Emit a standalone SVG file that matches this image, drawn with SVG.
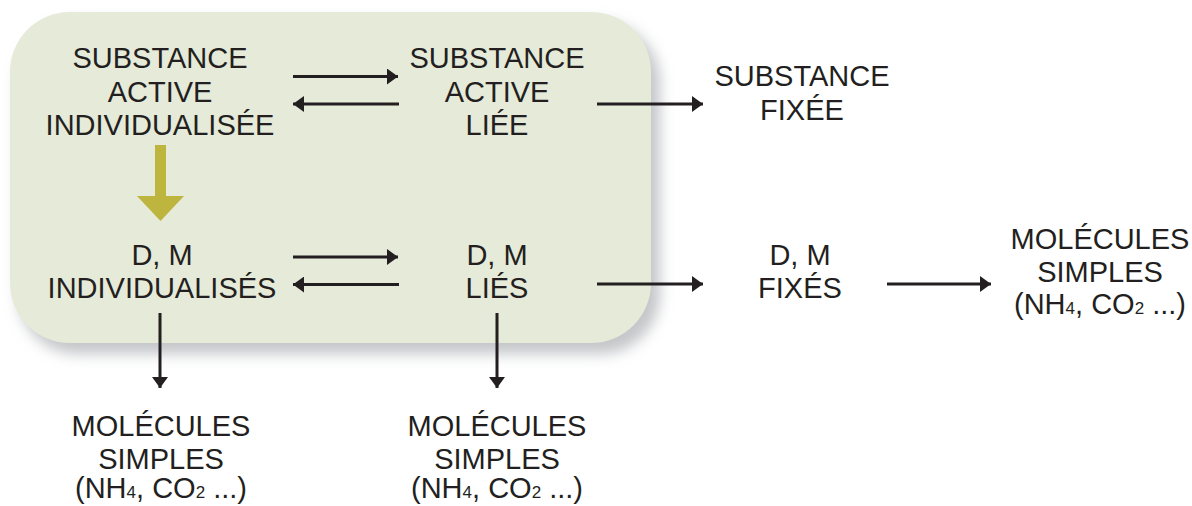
<svg xmlns="http://www.w3.org/2000/svg" width="1192" height="506" viewBox="0 0 1192 506">
<defs>
<filter id="shadow" x="-10%" y="-10%" width="130%" height="130%">
<feGaussianBlur stdDeviation="7"/>
</filter>
<marker id="ah" markerUnits="userSpaceOnUse" markerWidth="12" markerHeight="16" refX="11" refY="8" orient="auto">
<path d="M0,0 L11,8 L0,16 z" fill="#231f20"/>
</marker>
</defs>
<style>
text{font-family:"Liberation Sans",Arial,sans-serif;font-size:29px;fill:#231f20;text-anchor:middle}
.sub{font-size:17px}
.conn line{stroke:#231f20;stroke-width:3;marker-end:url(#ah)}
</style>
<rect x="18" y="22" width="642" height="332" rx="60" fill="#c4c6c9" filter="url(#shadow)"/>
<rect id="box" x="10" y="12" width="641" height="331" rx="60" fill="#e6ead9"/>
<g id="sai"><text x="160" y="68">SUBSTANCE</text><text x="160" y="101.5">ACTIVE</text><text x="160" y="135">INDIVIDUALISÉE</text></g>
<g id="sal"><text x="497" y="68">SUBSTANCE</text><text x="497" y="101.5">ACTIVE</text><text x="497" y="135">LIÉE</text></g>
<g id="sf"><text x="802" y="86">SUBSTANCE</text><text x="802" y="119.5">FIXÉE</text></g>
<g id="dmi"><text x="162" y="265">D, M</text><text x="162" y="298">INDIVIDUALISÉS</text></g>
<g id="dml"><text x="497" y="265">D, M</text><text x="497" y="298">LIÉS</text></g>
<g id="dmf"><text x="800" y="265">D, M</text><text x="800" y="298">FIXÉS</text></g>
<g id="ms1"><text x="1100" y="249">MOLÉCULES</text><text x="1100" y="282">SIMPLES</text><text x="1100" y="314">(NH<tspan class="sub">4</tspan>, CO<tspan class="sub">2</tspan> ...)</text></g>
<g id="ms2"><text x="161" y="436">MOLÉCULES</text><text x="161" y="468.5">SIMPLES</text><text x="161" y="498">(NH<tspan class="sub">4</tspan>, CO<tspan class="sub">2</tspan> ...)</text></g>
<g id="ms3"><text x="497" y="436">MOLÉCULES</text><text x="497" y="468.5">SIMPLES</text><text x="497" y="498">(NH<tspan class="sub">4</tspan>, CO<tspan class="sub">2</tspan> ...)</text></g>
<g id="connectors" class="conn">
<line x1="293" y1="76.5" x2="398" y2="76.5"/>
<line x1="399" y1="104" x2="293" y2="104"/>
<line x1="597" y1="104" x2="703" y2="104"/>
<line x1="293" y1="257" x2="398" y2="257"/>
<line x1="399" y1="284.5" x2="293" y2="284.5"/>
<line x1="597" y1="284" x2="703" y2="284"/>
<line x1="887" y1="284" x2="991" y2="284"/>
<line x1="160" y1="313" x2="160" y2="388"/>
<line x1="497" y1="313" x2="497" y2="388"/>
<path d="M155,145 H166 V196 H184 L160.5,221 L137,196 H155 Z" fill="#bdb53d"/>
</g>
</svg>
